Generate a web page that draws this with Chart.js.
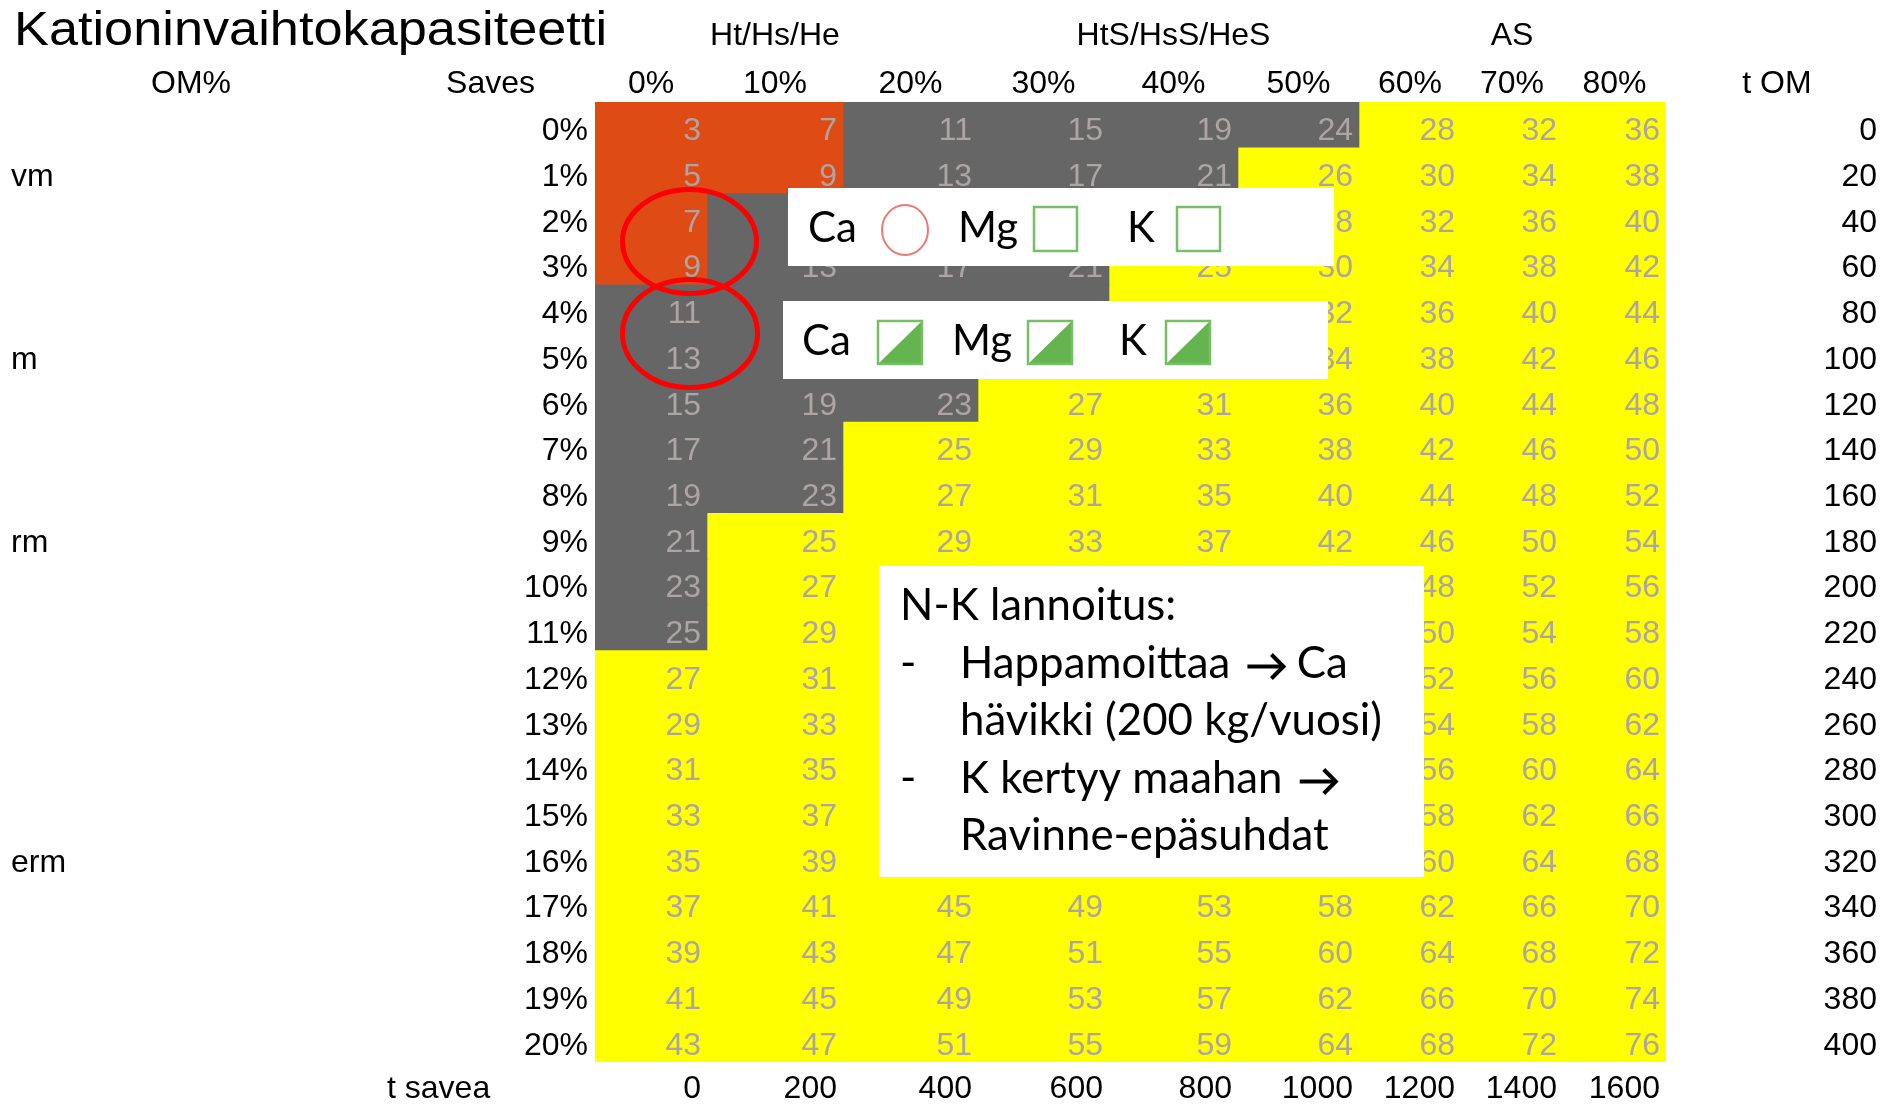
<!DOCTYPE html>
<html>
<head>
<meta charset="utf-8">
<script src="https://cdn.jsdelivr.net/npm/chart.js@4.4.0/dist/chart.umd.min.js"></script>
<style>
  body { margin: 0; background: #fff; }
  #wrap { width: 1885px; height: 1106px; position: relative; }
</style>
</head>
<body>
<div id="wrap"><canvas id="cecChart"></canvas></div>
<script>
// taulukon data
const omLabels = ["0%", "1%", "2%", "3%", "4%", "5%", "6%", "7%", "8%", "9%", "10%",
  "11%", "12%", "13%", "14%", "15%", "16%", "17%", "18%", "19%", "20%"];
const savesLabels = ["0%", "10%", "20%", "30%", "40%", "50%", "60%", "70%", "80%"];
const groupLabels = ["Ht/Hs/He", "HtS/HsS/HeS", "AS"];
const groupCols = [1, 4, 7];
const classLabels = ["vm", "m", "rm", "erm"];
const classRows = [1, 5, 9, 16];
const tOM = [0, 20, 40, 60, 80, 100, 120, 140, 160, 180, 200, 220, 240, 260, 280, 300, 320, 340, 360, 380, 400];
const tSavea = [0, 200, 400, 600, 800, 1000, 1200, 1400, 1600];

// KVK arvot, rivi = OM%, sarake = saves%
const cec = [
  [3, 7, 11, 15, 19, 24, 28, 32, 36],
  [5, 9, 13, 17, 21, 26, 30, 34, 38],
  [7, 11, 15, 19, 23, 28, 32, 36, 40],
  [9, 13, 17, 21, 25, 30, 34, 38, 42],
  [11, 15, 19, 23, 27, 32, 36, 40, 44],
  [13, 17, 21, 25, 29, 34, 38, 42, 46],
  [15, 19, 23, 27, 31, 36, 40, 44, 48],
  [17, 21, 25, 29, 33, 38, 42, 46, 50],
  [19, 23, 27, 31, 35, 40, 44, 48, 52],
  [21, 25, 29, 33, 37, 42, 46, 50, 54],
  [23, 27, 31, 35, 39, 44, 48, 52, 56],
  [25, 29, 33, 37, 41, 46, 50, 54, 58],
  [27, 31, 35, 39, 43, 48, 52, 56, 60],
  [29, 33, 37, 41, 45, 50, 54, 58, 62],
  [31, 35, 39, 43, 47, 52, 56, 60, 64],
  [33, 37, 41, 45, 49, 54, 58, 62, 66],
  [35, 39, 43, 47, 51, 56, 60, 64, 68],
  [37, 41, 45, 49, 53, 58, 62, 66, 70],
  [39, 43, 47, 51, 55, 60, 64, 68, 72],
  [41, 45, 49, 53, 57, 62, 66, 70, 74],
  [43, 47, 51, 55, 59, 64, 68, 72, 76]
];

// luokka per solu: O = oranssi, G = harmaa, Y = keltainen
const zones = [
  "OOGGGGYYY", "OOGGGYYYY", "OGGGGYYYY", "OGGGYYYYY", "GGGGYYYYY", "GGGGYYYYY",
  "GGGYYYYYY", "GGYYYYYYY", "GGYYYYYYY", "GYYYYYYYY", "GYYYYYYYY", "GYYYYYYYY",
  "YYYYYYYYY", "YYYYYYYYY", "YYYYYYYYY", "YYYYYYYYY", "YYYYYYYYY", "YYYYYYYYY",
  "YYYYYYYYY", "YYYYYYYYY", "YYYYYYYYY"
];

const noteLines = [
  ["", "N-K lannoitus:"],
  ["-", "Happamoittaa \u2192 Ca"],
  ["", "hävikki (200 kg/vuosi)"],
  ["-", "K kertyy maahan \u2192"],
  ["", "Ravinne-epäsuhdat"]
];

// asettelu
const zoneColor = { O: "#de4b15", G: "#666666", Y: "#ffff00" };
const colWidths = [112, 136, 135, 131, 129, 121, 102, 102, 103];
const colEdges = [0];
colWidths.forEach(w => colEdges.push(colEdges[colEdges.length - 1] + w));
const ARIAL = "'Liberation Sans', Arial, sans-serif";
const CALI = "Lato, 'Open Sans', sans-serif";

function put(ctx, s, x, y, font, align, color, fitW) {
  ctx.save();
  ctx.font = font;
  ctx.fillStyle = color || "#000";
  ctx.textAlign = align || "left";
  ctx.textBaseline = "alphabetic";
  ctx.translate(x, y);
  if (fitW) ctx.scale(fitW / ctx.measureText(s).width, 1);
  ctx.fillText(s, 0, 0);
  ctx.restore();
}

function textW(ctx, s, font) {
  ctx.save();
  ctx.font = font;
  const w = ctx.measureText(s).width;
  ctx.restore();
  return w;
}

// paksu nuoli kuten Wingdings
function arrow(ctx, x, y) {
  ctx.save();
  ctx.strokeStyle = "#000";
  ctx.lineWidth = 4;
  ctx.lineCap = "butt";
  ctx.lineJoin = "miter";
  ctx.beginPath();
  ctx.moveTo(x, y - 11);
  ctx.lineTo(x + 36, y - 11);
  ctx.stroke();
  ctx.beginPath();
  ctx.moveTo(x + 24, y - 23);
  ctx.lineTo(x + 36, y - 11);
  ctx.lineTo(x + 24, y + 1);
  ctx.stroke();
  ctx.restore();
}

const tablePlugin = {
  id: "tablePlugin",
  afterDraw(chart) {
    const ctx = chart.ctx;
    const xs = chart.scales.x, ys = chart.scales.y;
    const rowH = (ys.bottom - ys.top) / omLabels.length;
    const base = i => ys.getPixelForValue(i) + rowH / 2 - 7.5;
    const colL = j => xs.getPixelForValue(colEdges[j]);
    const colR = j => xs.getPixelForValue(colEdges[j + 1]);
    const f32 = "32px " + ARIAL;

    // solujen luvut
    cec.forEach((row, i) => {
      row.forEach((v, j) => put(ctx, String(v), colR(j) - 6, base(i), f32, "right", "#aca5a3"));
    });

    // otsikot
    put(ctx, "Kationinvaihtokapasiteetti", 14, 45, "48px " + ARIAL, "left", "#000", 593);
    groupLabels.forEach((g, k) => {
      const c = groupCols[k];
      put(ctx, g, (colL(c) + colR(c)) / 2, 45, f32, "center");
    });
    put(ctx, "OM%", 191, 93, f32, "center");
    put(ctx, "Saves", 535, 93, f32, "right");
    savesLabels.forEach((s, j) => put(ctx, s, (colL(j) + colR(j)) / 2, 93, f32, "center"));
    put(ctx, "t OM", 1777, 93, f32, "center");

    // rivit
    omLabels.forEach((s, i) => {
      put(ctx, s, xs.left - 7, base(i), f32, "right");
      put(ctx, String(tOM[i]), 1877, base(i), f32, "right");
    });
    classLabels.forEach((s, k) => put(ctx, s, 11, base(classRows[k]), f32, "left"));

    // alarivi
    const yb = ys.bottom + 36;
    put(ctx, "t savea", 387, yb, f32, "left");
    tSavea.forEach((v, j) => put(ctx, String(v), colR(j) - 6, yb, f32, "right"));

    // laatikot
    ctx.save();
    ctx.fillStyle = "#fff";
    ctx.fillRect(788, 188, 546, 78);
    ctx.fillRect(783, 301, 545, 78);
    ctx.fillRect(879, 566, 545, 311);
    ctx.restore();

    const f44 = "42px " + CALI;
    put(ctx, "Ca", 808, 242, f44);
    put(ctx, "Mg", 958, 242, f44);
    put(ctx, "K", 1127, 242, f44);
    put(ctx, "Ca", 802, 355, f44);
    put(ctx, "Mg", 952, 355, f44);
    put(ctx, "K", 1119, 355, f44);

    ctx.save();
    ctx.lineWidth = 2;
    ctx.strokeStyle = "#e97a72";
    ctx.beginPath();
    ctx.ellipse(905, 230, 23, 25, 0, 0, Math.PI * 2);
    ctx.stroke();
    ctx.strokeStyle = "#78be6a";
    ctx.lineWidth = 2.5;
    [1034, 1177].forEach(x0 => ctx.strokeRect(x0, 207, 43, 44));
    [878, 1028, 1166].forEach(x0 => {
      ctx.fillStyle = "#64b450";
      ctx.beginPath();
      ctx.moveTo(x0, 364);
      ctx.lineTo(x0 + 44, 321);
      ctx.lineTo(x0 + 44, 364);
      ctx.closePath();
      ctx.fill();
      ctx.strokeRect(x0, 321, 44, 43);
    });
    ctx.restore();

    // huomautus
    const fn = "44px " + CALI;
    const sx = 422 / textW(ctx, "hävikki (200 kg/vuosi)", fn);
    noteLines.forEach((ln, k) => {
      const yy = 620 + k * 57.5;
      if (ln[0]) put(ctx, ln[0], 900, yy, fn);
      let x = k === 0 ? 900 : 960;
      const parts = ln[1].split("\u2192");
      parts.forEach((seg, n) => {
        if (n > 0) {
          arrow(ctx, x + 6, yy);
          x += 44;
        }
        if (seg.length) {
          const w = textW(ctx, seg, fn) * sx;
          put(ctx, seg, x, yy, fn, "left", "#000", w);
          x += w;
        }
      });
    });

    // punaiset ellipsit
    ctx.save();
    ctx.strokeStyle = "#ff0000";
    ctx.lineWidth = 5;
    ctx.beginPath();
    ctx.ellipse(689.5, 241.5, 67, 52, 0, 0, Math.PI * 2);
    ctx.stroke();
    ctx.beginPath();
    ctx.ellipse(690, 333.5, 67.5, 54, 0, 0, Math.PI * 2);
    ctx.stroke();
    ctx.restore();
  }
};

new Chart(document.getElementById("cecChart"), {
  type: "bar",
  data: {
    labels: omLabels,
    datasets: savesLabels.map((lab, j) => ({
      label: lab,
      data: omLabels.map(() => [colEdges[j], colEdges[j + 1]]),
      backgroundColor: c => zoneColor[zones[c.dataIndex][j]],
      borderWidth: 0,
      barPercentage: 1,
      categoryPercentage: 1,
      grouped: false
    }))
  },
  options: {
    indexAxis: "y",
    responsive: true,
    maintainAspectRatio: false,
    animation: false,
    layout: { padding: { left: 595, right: 219, top: 102, bottom: 44 } },
    plugins: { legend: { display: false }, tooltip: { enabled: false } },
    scales: {
      x: { type: "linear", min: 0, max: colEdges[colEdges.length - 1], display: false },
      y: { type: "category", display: false }
    }
  },
  plugins: [tablePlugin]
});
</script>
</body>
</html>
